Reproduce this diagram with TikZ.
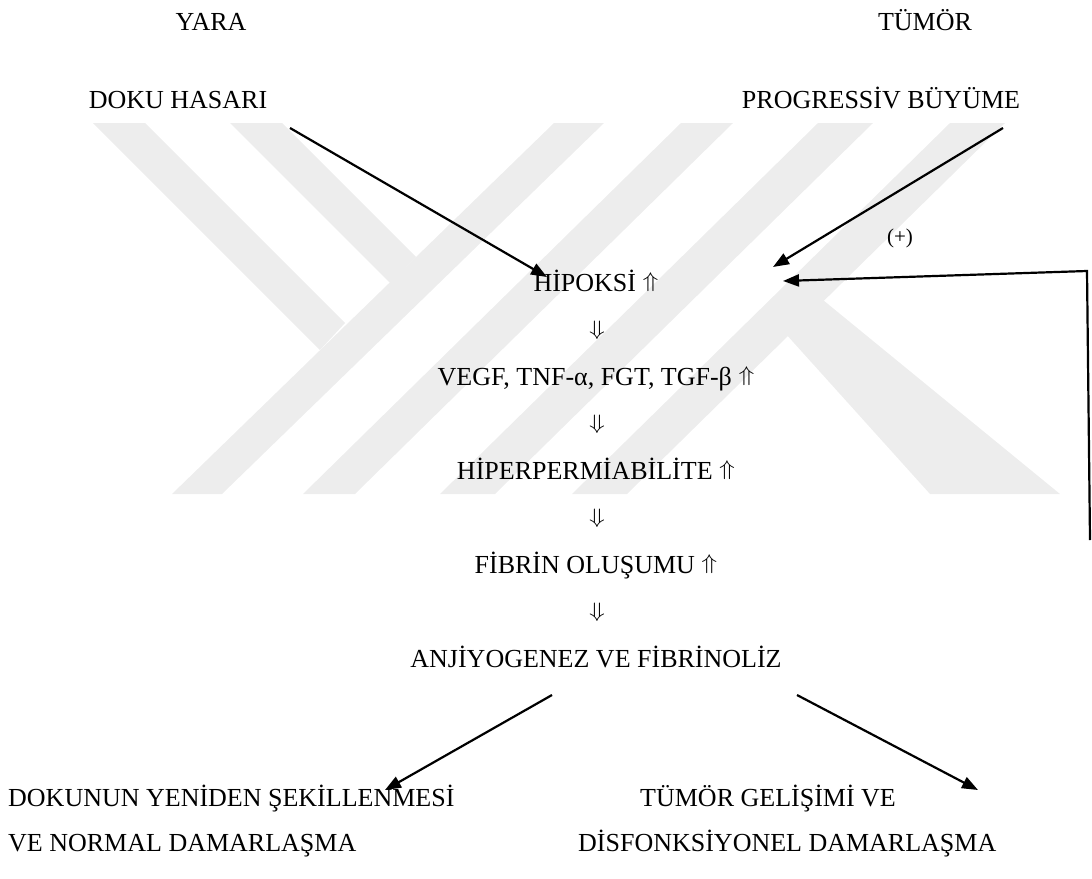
\documentclass[tikz,border=0pt]{standalone}
\usepackage{fix-cm}
\usepackage{graphicx}
\usepackage{fontspec}
\setmainfont{Liberation Serif}
\usetikzlibrary{arrows.meta}
\newcommand{\upa}{\raisebox{4pt}{\scalebox{1}[0.82]{$\Uparrow$}}}
\newcommand{\dna}{\scalebox{1}[0.8]{$\Downarrow$}}
\begin{document}
\begin{tikzpicture}[x=1pt,y=-1pt,
  lbl/.style={font=\fontsize{26}{31}\selectfont, inner sep=0pt},
  small/.style={font=\fontsize{21}{25}\selectfont, inner sep=0pt},
  arr/.style={line width=2.2pt, -{Triangle[length=16pt,width=12pt]}},
  wm/.style={fill=black!7, draw=none}]
\useasboundingbox (0,0) rectangle (1092,878);
% watermark
\fill[wm] (93,123)--(145,123)--(345,323)--(320,350)--cycle;
\fill[wm] (230,123)--(282,123)--(416,257)--(390,283)--cycle;
\fill[wm] (554,123)--(604,123)--(222,494)--(172,494)--cycle;
\fill[wm] (681,123)--(733,123)--(355,494)--(303,494)--cycle;
\fill[wm] (818,123)--(873,123)--(495,494)--(440,494)--cycle;
\fill[wm] (950,123)--(1005,123)--(627,494)--(572,494)--cycle;
\fill[wm] (785,333)--(823,300)--(1060,494)--(930,494)--cycle;
% texts
\node[lbl, anchor=base] (yara) at (211,30) {YARA};
\node[lbl, anchor=base] (tumor) at (925,30) {TÜMÖR};
\node[lbl, anchor=base] (doku) at (178,108) {DOKU HASARI};
\node[lbl, anchor=base] (prog) at (881,108) {PROGRESSİV BÜYÜME};
\node[small] (plus) at (900,238) {(+)};
\node[lbl, anchor=base] (hip) at (596,291) {HİPOKSİ \upa};
\node[lbl] (d1) at (597,330) {\dna};
\node[lbl, anchor=base] (vegf) at (596,385) {VEGF, TNF-α, FGT, TGF-β \upa};
\node[lbl] (d2) at (597,424) {\dna};
\node[lbl, anchor=base] (hper) at (596,479) {HİPERPERMİABİLİTE \upa};
\node[lbl] (d3) at (597,518) {\dna};
\node[lbl, anchor=base] (fib) at (596,573) {FİBRİN OLUŞUMU \upa};
\node[lbl] (d4) at (597,612) {\dna};
\node[lbl, anchor=base] (anj) at (596,667) {ANJİYOGENEZ VE FİBRİNOLİZ};
\node[lbl, anchor=base west] (res1a) at (8,806) {DOKUNUN YENİDEN ŞEKİLLENMESİ};
\node[lbl, anchor=base west] (res1b) at (8,851) {VE NORMAL DAMARLAŞMA};
\node[lbl, anchor=base west] (res2a) at (640,806) {TÜMÖR GELİŞİMİ VE};
\node[lbl, anchor=base west] (res2b) at (578,851) {DİSFONKSİYONEL DAMARLAŞMA};
% connector ends
\coordinate (dokuS) at (290,128);
\coordinate (hipL) at (547,277);
\coordinate (progS) at (1003,128);
\coordinate (hipR) at (773,267);
\coordinate (fbB) at (1090,540);
\coordinate (fbC) at (1087,271);
\coordinate (fbT) at (783,281);
\coordinate (anjL) at (552,695);
\coordinate (res1T) at (385,790);
\coordinate (anjR) at (797,695);
\coordinate (res2T) at (978,790);
% connectors
\draw[arr] (dokuS) -- (hipL);
\draw[arr] (progS) -- (hipR);
\draw[arr, line join=miter] (fbB) -- (fbC) -- (fbT);
\draw[arr] (anjL) -- (res1T);
\draw[arr] (anjR) -- (res2T);
\end{tikzpicture}
\end{document}
